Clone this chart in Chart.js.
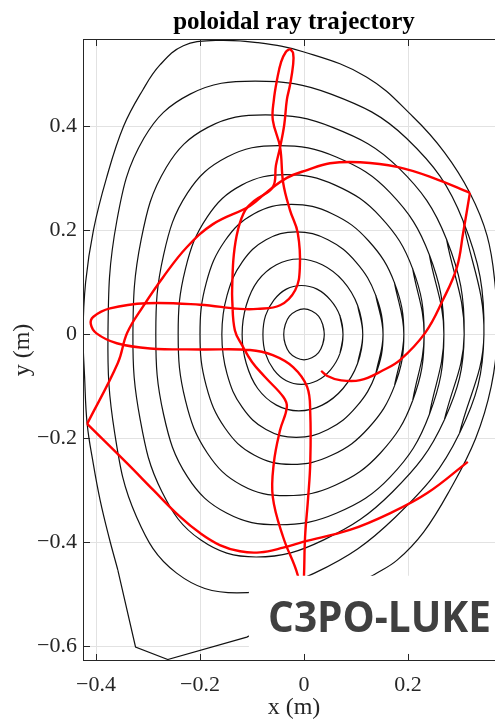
<!DOCTYPE html>
<html>
<head>
<meta charset="utf-8">
<title>poloidal ray trajectory</title>
<script src="https://cdn.jsdelivr.net/npm/chart.js@4"></script>
<style>
  html, body { margin: 0; padding: 0; background: #fff; overflow: hidden; }
  #wrap { width: 510px; height: 722px; }
</style>
</head>
<body>
<div id="wrap"><canvas id="plot" width="510" height="722"></canvas></div>
<script>
// axis limits and ticks (m)
const xLimits = [-0.425, 0.3865];
const yLimits = [-0.626, 0.566];
const xTicks = [-0.4, -0.2, 0, 0.2];
const yTicks = [-0.6, -0.4, -0.2, 0, 0.2, 0.4];

// closed flux surfaces, innermost first, [x, y] in m (last point repeats the first)
const surf1 = [[0.039,0],[0.036,0.019],[0.028,0.035],[0.015,0.045],[0,0.049],[-0.015,0.045],[-0.028,0.035],[-0.036,0.019],[-0.039,0],
  [-0.036,-0.019],[-0.028,-0.035],[-0.015,-0.045],[0,-0.049],[0.015,-0.045],[0.028,-0.035],[0.036,-0.019],[0.039,0]];
const surf2 = [[0.075,0],[0.069,0.036],[0.051,0.066],[0.025,0.087],[-0.005,0.094],[-0.034,0.087],[-0.058,0.066],[-0.074,0.036],[-0.079,0],
  [-0.074,-0.037],[-0.058,-0.068],[-0.034,-0.089],[-0.005,-0.096],[0.025,-0.089],[0.051,-0.068],[0.069,-0.037],[0.075,0]];
const surf3 = [[0.113,0],[0.103,0.056],[0.075,0.103],[0.035,0.134],[-0.010,0.145],[-0.053,0.134],[-0.089,0.103],[-0.111,0.056],[-0.119,0],
  [-0.111,-0.056],[-0.089,-0.104],[-0.053,-0.136],[-0.010,-0.147],[0.035,-0.136],[0.075,-0.104],[0.103,-0.056],[0.113,0]];
const surf4 = [[0.152,0],[0.138,0.075],[0.100,0.139],[0.046,0.182],[-0.015,0.197],[-0.073,0.182],[-0.119,0.139],[-0.148,0.075],[-0.158,0],
  [-0.148,-0.076],[-0.119,-0.140],[-0.073,-0.183],[-0.015,-0.198],[0.046,-0.183],[0.100,-0.140],[0.138,-0.076],[0.152,0]];
const surf5 = [[0.192,0],[0.174,0.099],[0.124,0.180],[0.054,0.232],[-0.024,0.250],[-0.096,0.232],[-0.152,0.180],[-0.188,0.099],[-0.200,0],
  [-0.188,-0.099],[-0.152,-0.180],[-0.096,-0.232],[-0.024,-0.250],[0.054,-0.232],[0.124,-0.180],[0.174,-0.099],[0.192,0]];
const surf6 = [[0.231,0],[0.209,0.126],[0.147,0.226],[0.060,0.287],[-0.034,0.307],[-0.120,0.287],[-0.186,0.226],[-0.228,0.126],[-0.242,0],
  [-0.228,-0.127],[-0.186,-0.228],[-0.120,-0.290],[-0.034,-0.310],[0.060,-0.290],[0.147,-0.228],[0.209,-0.127],[0.231,0]];
const surf7 = [[0.269,0],[0.241,0.153],[0.166,0.272],[0.062,0.341],[-0.049,0.363],[-0.148,0.341],[-0.224,0.272],[-0.270,0.153],[-0.285,0],
  [-0.270,-0.154],[-0.224,-0.274],[-0.148,-0.344],[-0.049,-0.366],[0.062,-0.344],[0.166,-0.274],[0.241,-0.154],[0.269,0]];
const surf8 = [[0.308,0],[0.274,0.183],[0.181,0.321],[0.055,0.398],[-0.074,0.422],[-0.185,0.398],[-0.265,0.321],[-0.313,0.183],[-0.329,0],
  [-0.315,-0.164],[-0.273,-0.303],[-0.199,-0.395],[-0.092,-0.428],[0.038,-0.395],[0.170,-0.303],[0.270,-0.164],[0.308,0]];
const surf9 = [[0.346,0],[0.306,0.218],[0.197,0.377],[0.052,0.462],[-0.094,0.487],[-0.219,0.462],[-0.308,0.377],[-0.360,0.218],[-0.377,0],
  [-0.364,-0.190],[-0.322,-0.351],[-0.245,-0.459],[-0.129,-0.497],[0.020,-0.459],[0.176,-0.351],[0.299,-0.190],[0.346,0]];
// outermost surface: smooth part, then the coarse polygon near the bottom
const lcfs = [[0.133,-0.463],[0.179,-0.434],[0.230,-0.380],[0.280,-0.300],[0.330,-0.200],[0.360,-0.100],[0.372,0],[0.367,0.100],
  [0.352,0.190],[0.319,0.272],[0.270,0.350],[0.210,0.418],[0.120,0.495],[0.000,0.543],[-0.090,0.561],[-0.170,0.565],[-0.232,0.555],
  [-0.277,0.518],[-0.310,0.470],[-0.347,0.400],[-0.380,0.300],[-0.405,0.200],[-0.420,0.100],[-0.425,0],[-0.422,-0.080],
  [-0.417,-0.172],[-0.405,-0.250],[-0.392,-0.319],[-0.375,-0.390],[-0.358,-0.453]];
const lcfsFoot = [[-0.358,-0.453],[-0.324,-0.601],[-0.262,-0.625],[-0.110,-0.582],[0.133,-0.463]];

// ray path, split at the two edge reflections
const rayStart = [[0.033,-0.070],[0.045,-0.080],[0.069,-0.088],[0.108,-0.088],[0.152,-0.069],[0.185,-0.049],[0.233,0.003],
  [0.267,0.066],[0.294,0.129],[0.306,0.195],[0.319,0.272]];
const rayUpper = [[0.319,0.272],[0.248,0.301],[0.179,0.322],[0.108,0.331],[0.050,0.329],[0.006,0.316],[-0.033,0.301],[-0.071,0.274],
  [-0.104,0.247],[-0.175,0.212],[-0.225,0.168],[-0.271,0.110],[-0.310,0.053],[-0.340,0.003],[-0.358,-0.055],[-0.417,-0.172]];
const rayLower = [[-0.417,-0.172],[-0.340,-0.248],[-0.290,-0.299],[-0.238,-0.351],[-0.200,-0.382],[-0.162,-0.405],[-0.123,-0.417],
  [-0.085,-0.419],[-0.040,-0.410],[-0.002,-0.399],[0.088,-0.376],[0.165,-0.344],[0.237,-0.305],[0.315,-0.245]];
const rayLoops = [[-0.027,0.549],[-0.035,0.543],[-0.044,0.524],[-0.052,0.489],[-0.058,0.451],[-0.060,0.412],[-0.046,0.360],
  [-0.040,0.291],[-0.027,0.239],[-0.012,0.195],[-0.008,0.129],[-0.017,0.085],[-0.046,0.056],[-0.090,0.049],[-0.123,0.049],
  [-0.200,0.057],[-0.303,0.060],[-0.373,0.050],[-0.405,0.034],[-0.410,0.020],[-0.399,0.002],[-0.360,-0.017],[-0.296,-0.027],
  [-0.200,-0.029],[-0.104,-0.030],[-0.060,-0.040],[-0.021,-0.063],[0.006,-0.101],[0.012,-0.151],[0.012,-0.247],[0.008,-0.313],
  [0.002,-0.390],[0.000,-0.463],[-0.003,-0.520],[-0.012,-0.463],[-0.040,-0.390],[-0.060,-0.313],[-0.058,-0.247],[-0.046,-0.184],
  [-0.033,-0.140],[-0.040,-0.120],[-0.075,-0.082],[-0.100,-0.053],[-0.119,-0.021],[-0.133,0.008],[-0.138,0.066],[-0.138,0.095],
  [-0.135,0.153],[-0.127,0.201],[-0.113,0.239],[-0.094,0.258],[-0.060,0.283],[-0.054,0.325],[-0.046,0.360],[-0.038,0.403],
  [-0.033,0.451],[-0.027,0.479],[-0.021,0.518],[-0.021,0.541],[-0.027,0.549]];

const titleText = 'poloidal ray trajectory';
const badgeText = 'C3PO-LUKE';

const axisColor = '#262626';
const serif = '"Liberation Serif", "Times New Roman", serif';
const pts = arr => arr.map(([x, y]) => ({ x, y }));
const fmt = v => (Math.abs(v) < 1e-9 ? '0' : v.toFixed(1).replace('-', '\u2212'));

const ray = data => ({ data: pts(data), borderColor: '#ff0000', borderWidth: 2.4, tension: 0.4 });
const open = (data, tension = 0.4) => ({ data: pts(data), borderColor: '#111111', borderWidth: 1.2, tension });
// a closed curve gets one overlapping point at each end so the spline has no corner where it closes
const closed = data => open([data[data.length - 2], ...data, data[1]]);

// frame, inner ticks, title and the code badge
const decorations = {
  id: 'decorations',
  afterDatasetsDraw(chart) {
    const { ctx, scales } = chart;
    const left = scales.x.getPixelForValue(-0.106);
    const top = scales.y.getPixelForValue(-0.464);
    const bottom = scales.y.getPixelForValue(-0.614);
    ctx.save();
    ctx.fillStyle = '#ffffff';
    ctx.fillRect(left, top, chart.width - left, bottom - top);
    ctx.font = 'bold 43px "Open Sans", "Noto Sans", sans-serif';
    ctx.textBaseline = 'alphabetic';
    ctx.textAlign = 'left';
    const m = ctx.measureText(badgeText);
    const ink = m.actualBoundingBoxLeft + m.actualBoundingBoxRight;
    ctx.translate(270, 632);
    ctx.scale(219 / ink, 1);
    ctx.fillStyle = '#404040';
    ctx.fillText(badgeText, m.actualBoundingBoxLeft, 0);
    ctx.restore();
  },
  afterDraw(chart) {
    const { ctx, chartArea: a, scales } = chart;
    ctx.save();
    ctx.strokeStyle = axisColor;
    ctx.lineWidth = 1;
    ctx.beginPath();
    for (const t of xTicks) {
      const px = Math.round(scales.x.getPixelForValue(t)) + 0.5;
      ctx.moveTo(px, a.bottom); ctx.lineTo(px, a.bottom - 6);
      ctx.moveTo(px, a.top); ctx.lineTo(px, a.top + 6);
    }
    for (const t of yTicks) {
      const py = Math.round(scales.y.getPixelForValue(t)) + 0.5;
      ctx.moveTo(a.left, py); ctx.lineTo(a.left + 7, py);
    }
    ctx.stroke();
    ctx.strokeRect(Math.round(a.left) + 0.5, Math.round(a.top) - 0.5, a.right - a.left, a.bottom - a.top + 1);
    ctx.fillStyle = '#000';
    ctx.font = 'bold 25px ' + serif;
    ctx.textAlign = 'center';
    ctx.textBaseline = 'alphabetic';
    ctx.fillText(titleText, (a.left + a.right) / 2, 29);
    ctx.restore();
  }
};

Chart.defaults.font.family = serif;

new Chart(document.getElementById('plot'), {
  type: 'scatter',
  data: {
    datasets: [
      ray(rayStart), ray(rayUpper), ray(rayLower), ray(rayLoops),
      closed(surf1), closed(surf2), closed(surf3), closed(surf4), closed(surf5),
      closed(surf6), closed(surf7), closed(surf8), closed(surf9),
      open(lcfs), open(lcfsFoot, 0)
    ]
  },
  options: {
    responsive: false,
    animation: false,
    layout: { padding: { top: 40, right: 5, left: 0, bottom: 0 } },
    elements: { point: { radius: 0, hoverRadius: 0 }, line: { fill: false } },
    datasets: { scatter: { showLine: true } },
    plugins: { legend: { display: false }, tooltip: { enabled: false } },
    scales: {
      x: {
        type: 'linear',
        min: xLimits[0],
        max: xLimits[1],
        afterBuildTicks: s => { s.ticks = xTicks.map(value => ({ value })); },
        afterFit: s => { s.height = 62; },
        grid: { color: '#e2e2e2', drawTicks: false },
        border: { display: false },
        ticks: { callback: fmt, padding: 12, color: axisColor, font: { size: 22 }, maxRotation: 0 },
        title: { display: true, text: 'x (m)', color: axisColor, font: { size: 24 }, padding: { top: 0, bottom: 0 } }
      },
      y: {
        type: 'linear',
        min: yLimits[0],
        max: yLimits[1],
        afterBuildTicks: s => { s.ticks = yTicks.map(value => ({ value })); },
        afterFit: s => { s.width = 83; },
        grid: { color: '#e2e2e2', drawTicks: false },
        border: { display: false },
        ticks: { callback: fmt, padding: 6, color: axisColor, font: { size: 22 } },
        title: { display: true, text: 'y (m)', color: axisColor, font: { size: 24 }, padding: { top: 8, bottom: 0 } }
      }
    }
  },
  plugins: [decorations]
});
</script>
</body>
</html>
